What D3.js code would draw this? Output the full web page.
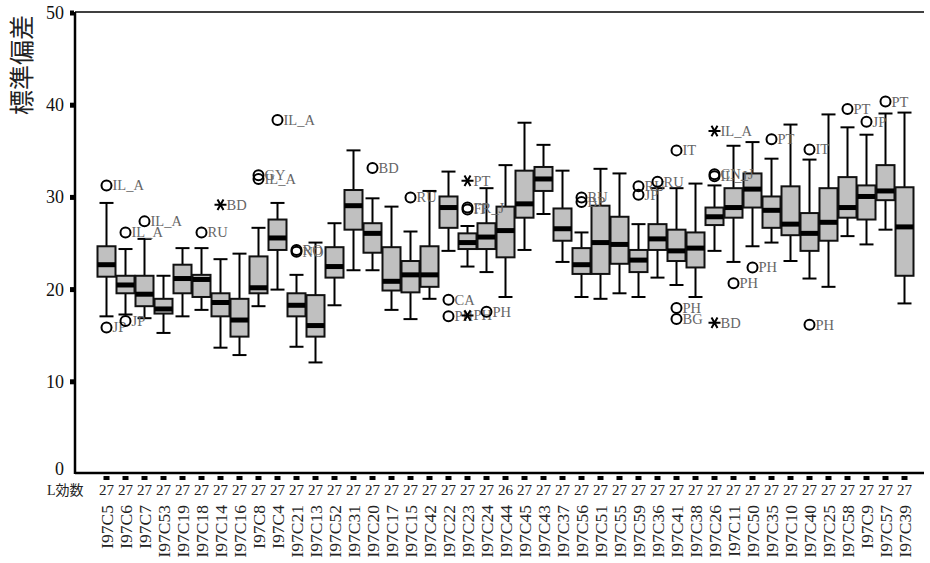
<!DOCTYPE html>
<html>
<head>
<meta charset="utf-8">
<title>標準偏差 boxplot</title>
<style>
  body { margin: 0; background: #fff; }
  svg text { font-family: "Liberation Serif", "Noto Sans CJK JP", serif; }
</style>
</head>
<body>
<script src="https://cdn.jsdelivr.net/npm/d3@7"></script>
<script>
// chart values
var categories = ["I97C5","I97C6","I97C7","I97C53","I97C19","I97C18","I97C14","I97C16","I97C8","I97C4",
  "I97C21","I97C13","I97C52","I97C31","I97C20","I97C17","I97C15","I97C42","I97C22","I97C23",
  "I97C24","I97C44","I97C45","I97C43","I97C37","I97C56","I97C51","I97C55","I97C59","I97C36",
  "I97C41","I97C38","I97C26","I97C11","I97C50","I97C35","I97C10","I97C40","I97C25","I97C58",
  "I97C9","I97C57","I97C39"];
var counts = [27,27,27,27,27,27,27,27,27,27, 27,27,27,27,27,27,27,27,27,27,
  27,26,27,27,27,27,27,27,27,27, 27,27,27,27,27,27,27,27,27,27, 27,27,27];
var whiskerLow  = [17.1,17.3,16.9,15.3,17.1,17.8,13.7,12.9,18.2,20.0, 13.8,12.1,18.3,22.1,22.1,17.8,16.8,19.0,24.2,22.5,
  21.9,19.2,24.3,28.2,23.0,19.2,19.0,19.6,19.2,21.3, 20.5,19.2,24.2,23.0,24.7,25.1,23.1,21.2,20.3,25.8, 24.9,26.5,18.5];
var q1          = [21.4,19.6,18.2,17.4,19.6,19.2,17.1,14.9,19.6,24.3, 17.1,14.9,21.3,26.5,24.0,19.9,19.7,20.3,26.7,24.4,
  24.4,23.5,27.8,30.7,25.3,21.7,21.7,22.8,21.9,24.3, 23.1,22.4,27.0,27.8,28.9,26.7,25.9,24.2,25.3,27.8, 27.6,29.7,21.5];
var median      = [22.7,20.5,19.5,17.9,21.2,21.1,18.6,16.7,20.2,25.6, 18.3,16.1,22.5,29.1,26.1,20.9,21.6,21.6,28.9,25.1,
  25.7,26.4,29.3,32.0,26.6,22.7,25.1,24.9,23.2,25.5, 24.2,24.5,27.9,28.9,30.9,28.6,27.1,26.1,27.3,28.9, 30.1,30.7,26.8];
var q3          = [24.7,21.5,21.5,19.0,22.7,21.6,19.6,19.0,23.6,27.6, 19.6,19.4,24.6,30.8,27.2,24.6,23.1,24.7,30.1,26.1,
  27.2,29.0,32.9,33.3,28.8,24.5,29.1,27.9,24.3,27.1, 26.5,26.2,28.9,31.0,32.6,30.1,31.2,28.3,31.0,32.2, 31.3,33.5,31.1];
var whiskerHigh = [29.4,24.4,25.5,21.5,24.5,24.5,23.3,23.9,26.7,29.4, 21.6,25.1,27.2,35.1,29.9,29.0,26.3,30.7,32.8,26.9,
  31.0,33.5,38.1,35.7,32.9,26.2,33.1,32.6,27.1,31.0, 31.0,31.5,31.3,35.6,36.0,34.2,37.9,34.1,39.0,37.6, 36.8,39.1,39.2];
// outliers: category, value, label, kind ("o" circle, "*" extreme)
var outliers = [
  ["I97C5",31.3,"IL_A","o"],["I97C5",15.9,"JP","o"],
  ["I97C6",26.2,"IL_A","o"],["I97C6",16.6,"JP","o"],
  ["I97C7",27.4,"IL_A","o"],
  ["I97C18",26.2,"RU","o"],
  ["I97C14",29.2,"BD","*"],
  ["I97C8",32.4,"GY","o"],["I97C8",32.0,"IL_A","o"],
  ["I97C4",38.4,"IL_A","o"],
  ["I97C21",24.3,"RO","o"],["I97C21",24.1,"NO","o"],
  ["I97C20",33.2,"BD","o"],
  ["I97C15",30.0,"RU","o"],
  ["I97C22",18.9,"CA","o"],["I97C22",17.1,"PH","o"],
  ["I97C23",31.8,"PT","*"],["I97C23",28.9,"FR_J","o"],["I97C23",28.7,"IT","o"],["I97C23",17.2,"PH","*"],
  ["I97C24",17.6,"PH","o"],
  ["I97C56",30.0,"RU","o"],["I97C56",29.5,"BP","o"],
  ["I97C59",31.2,"RU","o"],["I97C59",30.3,"JP","o"],
  ["I97C36",31.7,"RU","o"],
  ["I97C41",35.1,"IT","o"],["I97C41",18.0,"PH","o"],["I97C41",16.8,"BG","o"],
  ["I97C26",37.2,"IL_A","*"],["I97C26",32.5,"CN_J","o"],["I97C26",32.3,"IL_J","o"],["I97C26",16.4,"BD","*"],
  ["I97C11",20.7,"PH","o"],
  ["I97C50",22.4,"PH","o"],
  ["I97C35",36.3,"PT","o"],
  ["I97C40",35.2,"IT","o"],["I97C40",16.2,"PH","o"],
  ["I97C58",39.6,"PT","o"],
  ["I97C9",38.2,"JP","o"],
  ["I97C57",40.4,"PT","o"]
];
var yTicks = [0,10,20,30,40,50];

var w = 930, h = 563;
var plotLeft = 75, plotRight = 924, plotTop = 13, plotBottom = 474;

var svg = d3.select("body").append("svg")
  .attr("width", w).attr("height", h);

var x = d3.scaleBand().domain(categories).range([97, 914]).padding(0);
var y = d3.scaleLinear().domain([0, 50]).range([plotBottom, plotTop]);
var bw = 18, cap = 14;

// frame lines
svg.append("line").attr("x1", plotLeft).attr("x2", plotRight).attr("y1", plotTop - 1).attr("y2", plotTop - 1)
  .attr("stroke", "#000").attr("stroke-width", 1.5);
svg.append("line").attr("x1", plotLeft).attr("x2", plotLeft).attr("y1", plotTop - 1).attr("y2", plotBottom)
  .attr("stroke", "#000").attr("stroke-width", 2.5);
svg.append("line").attr("x1", plotLeft).attr("x2", plotRight).attr("y1", plotBottom - 1).attr("y2", plotBottom - 1)
  .attr("stroke", "#000").attr("stroke-width", 2.5);

// y ticks (little squares) and labels
var yAxis = svg.append("g");
yTicks.forEach(function(t) {
  if (t > 0) {
    yAxis.append("rect").attr("x", plotLeft - 5).attr("y", y(t) - 2.5)
      .attr("width", 4).attr("height", 5).attr("fill", "#000");
  }
  yAxis.append("text").attr("x", 64).attr("y", y(t) + 6 - (t === 0 ? 5 : 0))
    .attr("text-anchor", "end").attr("font-size", 18).attr("fill", "#111").text(t);
});

// y title
svg.append("text")
  .attr("transform", "translate(31,65) rotate(-90)")
  .attr("text-anchor", "middle")
  .attr("font-size", 25)
  .attr("fill", "#222")
  .style("font-family", "'Noto Sans CJK JP', sans-serif")
  .text("標準偏差");

var data = categories.map(function(c, i) {
  return {cat: c, n: counts[i], lo: whiskerLow[i], q1: q1[i], med: median[i], q3: q3[i], hi: whiskerHigh[i]};
});
function cx(c) { return x(c) + x.bandwidth() / 2; }

var boxes = svg.append("g").selectAll("g").data(data).enter().append("g");

// whiskers
boxes.append("line").attr("x1", function(d) { return cx(d.cat); }).attr("x2", function(d) { return cx(d.cat); })
  .attr("y1", function(d) { return y(d.hi); }).attr("y2", function(d) { return y(d.lo); })
  .attr("stroke", "#000").attr("stroke-width", 2);
boxes.append("line").attr("x1", function(d) { return cx(d.cat) - cap / 2; }).attr("x2", function(d) { return cx(d.cat) + cap / 2; })
  .attr("y1", function(d) { return y(d.hi); }).attr("y2", function(d) { return y(d.hi); })
  .attr("stroke", "#000").attr("stroke-width", 2);
boxes.append("line").attr("x1", function(d) { return cx(d.cat) - cap / 2; }).attr("x2", function(d) { return cx(d.cat) + cap / 2; })
  .attr("y1", function(d) { return y(d.lo); }).attr("y2", function(d) { return y(d.lo); })
  .attr("stroke", "#000").attr("stroke-width", 2);
// box
boxes.append("rect")
  .attr("x", function(d) { return cx(d.cat) - bw / 2; })
  .attr("y", function(d) { return y(d.q3); })
  .attr("width", bw)
  .attr("height", function(d) { return y(d.q1) - y(d.q3); })
  .attr("fill", "#c0c0c0").attr("stroke", "#111").attr("stroke-width", 2);
// median band
boxes.append("rect")
  .attr("x", function(d) { return cx(d.cat) - bw / 2; })
  .attr("y", function(d) { return y(d.med) - 2.5; })
  .attr("width", bw).attr("height", 5).attr("fill", "#000");

// outliers
var out = svg.append("g").selectAll("g").data(outliers).enter().append("g")
  .attr("transform", function(d) { return "translate(" + cx(d[0]) + "," + y(d[1]) + ")"; });
out.filter(function(d) { return d[3] === "o"; }).append("circle")
  .attr("r", 5).attr("fill", "none").attr("stroke", "#000").attr("stroke-width", 2);
out.filter(function(d) { return d[3] === "*"; }).append("path")
  .attr("d", function() {
    var r = 6, p = "";
    [0, 60, 120].forEach(function(a) {
      var t = a * Math.PI / 180;
      p += "M" + (-r * Math.cos(t)) + "," + (-r * Math.sin(t)) + "L" + (r * Math.cos(t)) + "," + (r * Math.sin(t));
    });
    return p;
  })
  .attr("stroke", "#000").attr("stroke-width", 2);
out.append("text").attr("x", 6).attr("y", 5)
  .attr("font-size", 14.5).attr("fill", "#666").text(function(d) { return d[2]; });

// x ticks, counts and category labels
var xg = svg.append("g");
data.forEach(function(d) {
  xg.append("rect").attr("x", cx(d.cat) - 3).attr("y", plotBottom + 2).attr("width", 6).attr("height", 4).attr("fill", "#000");
  xg.append("text").attr("x", cx(d.cat)).attr("y", 495).attr("text-anchor", "middle")
    .attr("font-size", 15).attr("fill", "#222").text(d.n);
  xg.append("text")
    .attr("transform", "translate(" + (cx(d.cat) + 6) + ",505) rotate(-90)")
    .attr("text-anchor", "end").attr("font-size", 17.5).attr("fill", "#222").text(d.cat);
});
svg.append("text").attr("x", 47).attr("y", 495).attr("font-size", 14).attr("fill", "#222")
  .style("font-family", "'Liberation Serif', 'Noto Sans CJK JP', serif")
  .text("L効数");
</script>
</body>
</html>
